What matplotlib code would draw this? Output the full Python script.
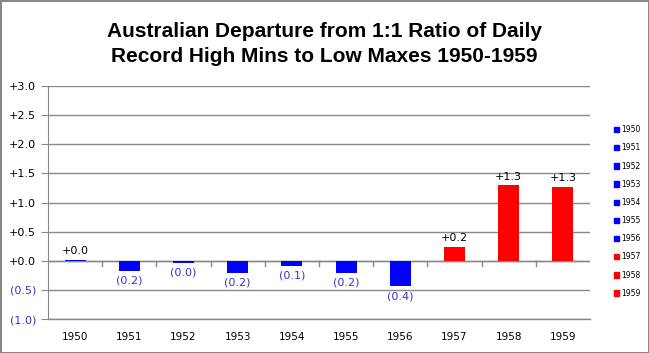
import matplotlib.pyplot as plt
from matplotlib.patches import Patch
from matplotlib.ticker import FuncFormatter, MultipleLocator

years = ['1950', '1951', '1952', '1953', '1954', '1955', '1956', '1957', '1958', '1959']
values = [0.02, -0.17, -0.03, -0.21, -0.09, -0.21, -0.44, 0.24, 1.30, 1.27]
labels = ['+0.0', '(0.2)', '(0.0)', '(0.2)', '(0.1)', '(0.2)', '(0.4)', '+0.2', '+1.3', '+1.3']

BLUE = '#0000FF'
RED = '#FF0000'
NEG_TXT = '#3333CC'

colors = [RED if v > 0.1 else BLUE for v in values]

fig = plt.figure(figsize=(6.49, 3.53), dpi=100)
fig.patch.set_edgecolor('#888888')
fig.patch.set_linewidth(2)
ax = fig.add_axes([0.074, 0.096, 0.835, 0.66])

x = range(len(years))
ax.bar(x, values, width=0.39, color=colors, zorder=3)

ax.set_ylim(-1.0, 3.0)
ax.set_xlim(-0.5, len(years) - 0.5)
ax.yaxis.set_major_locator(MultipleLocator(0.5))


def yfmt(v, pos):
    if v < -1e-9:
        return '(%.1f)' % abs(v)
    return '+%.1f' % abs(v)


ax.yaxis.set_major_formatter(FuncFormatter(yfmt))
ax.grid(axis='y', color='#888888', linewidth=1, zorder=0)
for s in ['top', 'right', 'bottom']:
    ax.spines[s].set_visible(False)
ax.spines['left'].set_color('#888888')
ax.axhline(0, color='#888888', linewidth=1, zorder=2)
ax.axhline(-1.0, color='#888888', linewidth=1, zorder=2, clip_on=False)
ax.tick_params(axis='y', labelsize=8, color='#888888', length=5)
for t in ax.get_yticklabels():
    t.set_color(NEG_TXT if t.get_text().startswith('(') else 'black')

# category labels below the plot, boundary ticks on the zero line
ax.set_xticks([])
for i, yr in enumerate(years):
    ax.text(i, -1.31, yr, ha='center', va='center', fontsize=7.5)
for i in range(len(years) - 1):
    ax.plot([i + 0.5, i + 0.5], [0, -0.09], color='#888888', linewidth=1, zorder=2)

for i, (v, lab) in enumerate(zip(values, labels)):
    if lab.startswith('('):
        ax.text(i, v - 0.08, lab, ha='center', va='top', fontsize=8, color=NEG_TXT)
    else:
        ax.text(i, v + 0.06, lab, ha='center', va='bottom', fontsize=8, color='black')

fig.text(0.5, 0.875, 'Australian Departure from 1:1 Ratio of Daily\nRecord High Mins to Low Maxes 1950-1959',
         ha='center', va='center', fontsize=15, fontweight='bold', family='Liberation Sans',
         linespacing=1.4)

handles = [Patch(facecolor=c, edgecolor=c) for c in colors]
fig.legend(handles, years, loc='center left', bbox_to_anchor=(0.935, 0.401), frameon=False,
           fontsize=5.5, handlelength=0.7, handleheight=0.7, handletextpad=0.3, labelspacing=1.2)

fig.savefig('out.png', dpi=100)
